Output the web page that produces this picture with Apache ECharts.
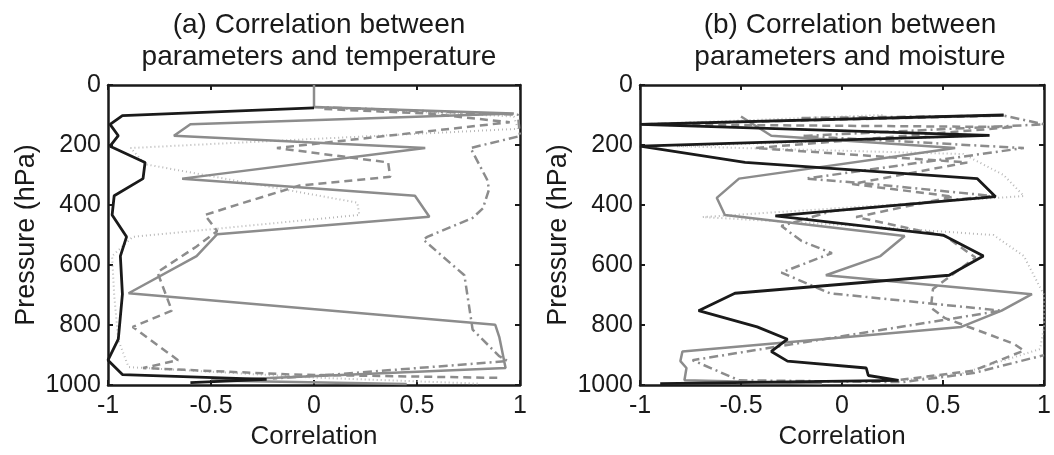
<!DOCTYPE html>
<html>
<head>
<meta charset="utf-8">
<script src="https://cdn.jsdelivr.net/npm/echarts@6/dist/echarts.min.js"></script>
<style>
  html, body { margin: 0; background: #fff; }
  #chart { width: 1054px; height: 455px; }
</style>
</head>
<body>
<div id="chart"></div>
<script>
// [correlation, pressure hPa]
// (a) temperature
const tempBlack = [[0,76],[-0.93,102],[-0.99,131],[-0.95,169],[-0.99,204],[-0.82,258],[-0.83,312],[-0.97,369],[-0.98,433],[-0.91,506],[-0.94,570],[-0.93,697],[-0.95,847],[-1,917],[-0.93,965],[-0.23,981],[-0.6,992]]
const tempGray = [[0,0],[0,73],[0.97,95],[-0.6,131],[-0.68,169],[0.54,210],[-0.64,312],[0.49,369],[0.56,439],[-0.47,497],[-0.57,570],[-0.9,694],[0.88,799],[0.9,841],[0.93,943],[-0.5,985],[0.45,996]]
const tempDash = [[0.05,80],[0.55,95],[0.95,124],[-0.18,210],[0.36,258],[0.37,306],[-0.07,335],[-0.34,392],[-0.53,433],[-0.47,487],[-0.57,538],[-0.76,624],[-0.69,752],[-0.88,806],[-0.66,917],[-0.83,943],[-0.1,965],[0.9,976]]
const tempDashDot = [[0,73],[0.99,99],[1,170],[0.76,210],[0.84,315],[0.85,347],[0.82,411],[0.77,443],[0.55,506],[0.53,515],[0.73,634],[0.77,815],[0.9,904],[0.94,920],[0.09,965],[-0.2,978]]
const tempDot = [[0,73],[0.97,105],[0.99,146],[-0.89,210],[-0.82,264],[0.21,392],[0.22,433],[-0.88,506],[-0.98,570],[-0.97,700],[-0.95,850],[-0.9,940],[0,975],[0.8,995]]

// (b) moisture
const moistBlack = [[0.8,100],[-1,131],[0.73,168],[-1,204],[-0.48,258],[0.67,312],[0.76,372],[-0.33,436],[0.5,500],[0.7,570],[0.53,634],[-0.53,694],[-0.71,752],[-0.42,806],[-0.27,847],[-0.35,888],[-0.27,920],[0.12,943],[0.13,968],[0.28,984],[-0.9,995]]
const moistGray = [[-0.5,105],[-0.35,169],[0.56,210],[-0.51,312],[-0.62,376],[-0.58,433],[0.31,503],[0.19,570],[-0.08,634],[0.94,697],[0.79,752],[0.59,806],[-0.79,888],[-0.8,920],[-0.77,943],[-0.78,984],[-0.1,995]]
const moistDash = [[0.8,102],[-1,131],[0.85,140],[-0.43,210],[0.62,258],[0.05,330],[0.55,372],[0.07,440],[0.51,503],[0.66,575],[0.45,680],[0.44,742],[0.51,777],[0.85,862],[0.9,885],[0.65,952],[0.27,984]]
const moistDashDot = [[-0.2,110],[0.8,102],[1,131],[-0.2,170],[0.9,210],[-0.18,312],[0.15,330],[0.75,370],[-0.05,420],[-0.3,470],[-0.2,520],[-0.05,560],[-0.3,625],[-0.06,694],[0.79,752],[-0.74,917],[-0.51,984],[0.3,990],[0.65,960],[1,900]]
const moistDot = [[0.2,100],[-1,131],[0.73,168],[-0.82,204],[0.6,230],[0.8,300],[0.9,370],[-0.69,440],[0.1,470],[0.75,500],[0.9,570],[1,700],[1,806],[0.98,880],[0.6,960],[0.3,984]]

const titles = ['(a) Correlation between\nparameters and temperature', '(b) Correlation between\nparameters and moisture']

const chart = echarts.init(document.getElementById('chart'))
const font = 'Liberation Sans, Arial, sans-serif'
const ink = '#1a1a1a'

function xAxes (g, top) {
  return {
    type: 'value', gridIndex: g, min: -1, max: 1, interval: 0.5,
    position: top ? 'top' : 'bottom',
    name: top ? '' : 'Correlation', nameLocation: 'middle', nameGap: 31,
    nameTextStyle: { fontFamily: font, fontSize: 26, color: ink },
    axisLine: { show: true, onZero: false, lineStyle: { color: ink, width: 2.5 } },
    axisTick: { show: true, inside: true, length: 5, lineStyle: { color: ink, width: 2 } },
    axisLabel: { show: !top, fontFamily: font, fontSize: 25, color: ink, margin: 9 },
    splitLine: { show: false }
  }
}
function yAxes (g, right) {
  return {
    type: 'value', gridIndex: g, min: 0, max: 1000, interval: 200, inverse: true,
    position: right ? 'right' : 'left',
    name: right ? '' : 'Pressure (hPa)', nameLocation: 'middle', nameGap: 68, nameRotate: 90,
    nameTextStyle: { fontFamily: font, fontSize: 27, color: ink },
    axisLine: { show: true, onZero: false, lineStyle: { color: ink, width: 2.5 } },
    axisTick: { show: true, inside: true, length: 5, lineStyle: { color: ink, width: 2 } },
    axisLabel: { show: !right, fontFamily: font, fontSize: 25, color: ink, margin: 7,
      formatter: function (v) { return String(v) } },
    splitLine: { show: false }
  }
}

function line (data, g, color, type, width) {
  return {
    type: 'line', data: data, xAxisIndex: g * 2, yAxisIndex: g * 2,
    showSymbol: false, symbol: 'none', animation: false,
    lineStyle: { color: color, width: width, type: type }
  }
}

const panels = [
  [tempDot, tempDashDot, tempDash, tempGray, tempBlack],
  [moistDot, moistDashDot, moistDash, moistGray, moistBlack]
]
const series = []
panels.forEach(function (p, g) {
  series.push(line(p[0], g, '#b8b8b8', [1, 3], 2))
  series.push(line(p[1], g, '#8c8c8c', [9, 4, 2, 4], 2.5))
  series.push(line(p[2], g, '#8c8c8c', [8, 5], 2.5))
  series.push(line(p[3], g, '#8c8c8c', 'solid', 2.5))
  series.push(line(p[4], g, '#1a1a1a', 'solid', 2.8))
})

const titleStyle = { fontFamily: font, fontSize: 28, fontWeight: 'normal', color: ink, lineHeight: 32 }

chart.setOption({
  backgroundColor: '#fff',
  title: [
    { text: titles[0], left: 314, top: 4, textAlign: 'center', textStyle: titleStyle },
    { text: titles[1], left: 845, top: 4, textAlign: 'center', textStyle: titleStyle }
  ],
  grid: [
    { left: 108, top: 85, width: 412, height: 313 },
    { left: 640, top: 85, width: 410, height: 313 }
  ],
  xAxis: [xAxes(0, false), xAxes(0, true), xAxes(1, false), xAxes(1, true)],
  yAxis: [yAxes(0, false), yAxes(0, true), yAxes(1, false), yAxes(1, true)],
  series: series
})
</script>
</body>
</html>
